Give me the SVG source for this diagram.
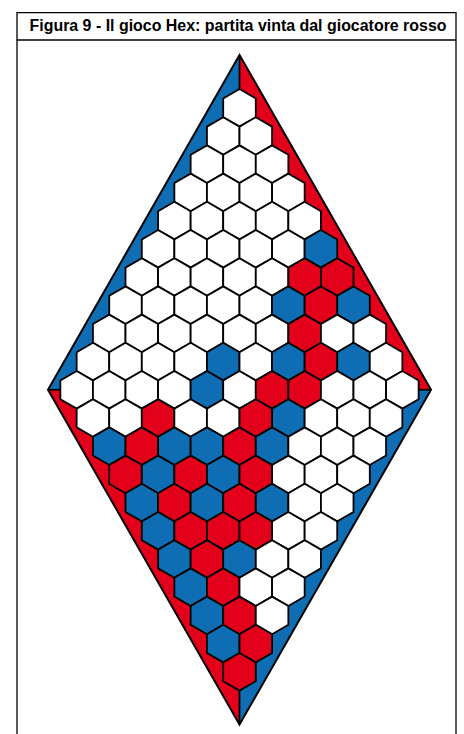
<svg xmlns="http://www.w3.org/2000/svg" xmlns:xlink="http://www.w3.org/1999/xlink" width="464" height="734" viewBox="0 0 464 734">
<style>
.frame{fill:none;stroke:#000;stroke-width:1.3}
.title{font-family:"Liberation Sans",Arial,sans-serif;font-weight:bold;font-size:17px;fill:#000}
.w{fill:#fff}
.r{fill:#E3001B}
.b{fill:#0F6EB3}
.cells use{stroke:#000;stroke-width:1.8;stroke-linejoin:miter}
.split{stroke:#000;stroke-width:1.8}
.outline{fill:none;stroke:#000;stroke-width:2;stroke-linejoin:miter}
</style>
<defs>
<polygon id="h" points="0,-18.8 16.28,-9.4 16.28,9.4 0,18.8 -16.28,9.4 -16.28,-9.4"/>
</defs>
<rect width="464" height="734" fill="#fff"/>
<g id="frame">
<path class="frame" d="M17,734 V12.7 H456 V734"/>
<line class="frame" x1="17" y1="40" x2="456" y2="40"/>
<text class="title" transform="translate(238,31) scale(0.85,1)" x="0" y="0" text-anchor="middle" textLength="490.6" lengthAdjust="spacingAndGlyphs">Figura 9 - Il gioco Hex: partita vinta dal giocatore rosso</text>
</g>
<g id="margins">
<polygon class="b" points="239.5,55 48,389.8 239.5,389.8"/>
<polygon class="r" points="239.5,55 431,389.8 239.5,389.8"/>
<polygon class="r" points="48,389.8 239.5,724.5 239.5,389.8"/>
<polygon class="b" points="431,389.8 239.5,724.5 239.5,389.8"/>
</g>
<g id="board" class="cells">
<use href="#h" class="w" x="239.5" y="107.8"/>
<use href="#h" class="w" x="223.22" y="136"/><use href="#h" class="w" x="255.79" y="136"/>
<use href="#h" class="w" x="206.93" y="164.2"/><use href="#h" class="w" x="239.5" y="164.2"/><use href="#h" class="w" x="272.07" y="164.2"/>
<use href="#h" class="w" x="190.65" y="192.4"/><use href="#h" class="w" x="223.22" y="192.4"/><use href="#h" class="w" x="255.79" y="192.4"/><use href="#h" class="w" x="288.36" y="192.4"/>
<use href="#h" class="w" x="174.36" y="220.6"/><use href="#h" class="w" x="206.93" y="220.6"/><use href="#h" class="w" x="239.5" y="220.6"/><use href="#h" class="w" x="272.07" y="220.6"/><use href="#h" class="w" x="304.64" y="220.6"/>
<use href="#h" class="w" x="158.08" y="248.8"/><use href="#h" class="w" x="190.65" y="248.8"/><use href="#h" class="w" x="223.22" y="248.8"/><use href="#h" class="w" x="255.79" y="248.8"/><use href="#h" class="w" x="288.36" y="248.8"/><use href="#h" class="b" x="320.93" y="248.8"/>
<use href="#h" class="w" x="141.79" y="277"/><use href="#h" class="w" x="174.36" y="277"/><use href="#h" class="w" x="206.93" y="277"/><use href="#h" class="w" x="239.5" y="277"/><use href="#h" class="w" x="272.07" y="277"/><use href="#h" class="r" x="304.64" y="277"/><use href="#h" class="r" x="337.21" y="277"/>
<use href="#h" class="w" x="125.51" y="305.2"/><use href="#h" class="w" x="158.08" y="305.2"/><use href="#h" class="w" x="190.65" y="305.2"/><use href="#h" class="w" x="223.22" y="305.2"/><use href="#h" class="w" x="255.79" y="305.2"/><use href="#h" class="b" x="288.36" y="305.2"/><use href="#h" class="r" x="320.93" y="305.2"/><use href="#h" class="b" x="353.5" y="305.2"/>
<use href="#h" class="w" x="109.22" y="333.4"/><use href="#h" class="w" x="141.79" y="333.4"/><use href="#h" class="w" x="174.36" y="333.4"/><use href="#h" class="w" x="206.93" y="333.4"/><use href="#h" class="w" x="239.5" y="333.4"/><use href="#h" class="w" x="272.07" y="333.4"/><use href="#h" class="r" x="304.64" y="333.4"/><use href="#h" class="w" x="337.21" y="333.4"/><use href="#h" class="w" x="369.78" y="333.4"/>
<use href="#h" class="w" x="92.94" y="361.6"/><use href="#h" class="w" x="125.51" y="361.6"/><use href="#h" class="w" x="158.08" y="361.6"/><use href="#h" class="w" x="190.65" y="361.6"/><use href="#h" class="b" x="223.22" y="361.6"/><use href="#h" class="w" x="255.79" y="361.6"/><use href="#h" class="b" x="288.36" y="361.6"/><use href="#h" class="r" x="320.93" y="361.6"/><use href="#h" class="b" x="353.5" y="361.6"/><use href="#h" class="w" x="386.07" y="361.6"/>
<use href="#h" class="w" x="76.65" y="389.8"/><use href="#h" class="w" x="109.22" y="389.8"/><use href="#h" class="w" x="141.79" y="389.8"/><use href="#h" class="w" x="174.36" y="389.8"/><use href="#h" class="b" x="206.93" y="389.8"/><use href="#h" class="w" x="239.5" y="389.8"/><use href="#h" class="r" x="272.07" y="389.8"/><use href="#h" class="r" x="304.64" y="389.8"/><use href="#h" class="w" x="337.21" y="389.8"/><use href="#h" class="w" x="369.78" y="389.8"/><use href="#h" class="w" x="402.35" y="389.8"/>
<use href="#h" class="w" x="92.94" y="418"/><use href="#h" class="w" x="125.51" y="418"/><use href="#h" class="r" x="158.08" y="418"/><use href="#h" class="w" x="190.65" y="418"/><use href="#h" class="w" x="223.22" y="418"/><use href="#h" class="r" x="255.79" y="418"/><use href="#h" class="b" x="288.36" y="418"/><use href="#h" class="w" x="320.93" y="418"/><use href="#h" class="w" x="353.5" y="418"/><use href="#h" class="w" x="386.07" y="418"/>
<use href="#h" class="b" x="109.22" y="446.2"/><use href="#h" class="r" x="141.79" y="446.2"/><use href="#h" class="b" x="174.36" y="446.2"/><use href="#h" class="b" x="206.93" y="446.2"/><use href="#h" class="r" x="239.5" y="446.2"/><use href="#h" class="b" x="272.07" y="446.2"/><use href="#h" class="w" x="304.64" y="446.2"/><use href="#h" class="w" x="337.21" y="446.2"/><use href="#h" class="w" x="369.78" y="446.2"/>
<use href="#h" class="r" x="125.51" y="474.4"/><use href="#h" class="b" x="158.08" y="474.4"/><use href="#h" class="r" x="190.65" y="474.4"/><use href="#h" class="b" x="223.22" y="474.4"/><use href="#h" class="r" x="255.79" y="474.4"/><use href="#h" class="w" x="288.36" y="474.4"/><use href="#h" class="w" x="320.93" y="474.4"/><use href="#h" class="w" x="353.5" y="474.4"/>
<use href="#h" class="b" x="141.79" y="502.6"/><use href="#h" class="r" x="174.36" y="502.6"/><use href="#h" class="b" x="206.93" y="502.6"/><use href="#h" class="r" x="239.5" y="502.6"/><use href="#h" class="b" x="272.07" y="502.6"/><use href="#h" class="w" x="304.64" y="502.6"/><use href="#h" class="w" x="337.21" y="502.6"/>
<use href="#h" class="b" x="158.08" y="530.8"/><use href="#h" class="r" x="190.65" y="530.8"/><use href="#h" class="r" x="223.22" y="530.8"/><use href="#h" class="r" x="255.79" y="530.8"/><use href="#h" class="w" x="288.36" y="530.8"/><use href="#h" class="w" x="320.93" y="530.8"/>
<use href="#h" class="b" x="174.36" y="559"/><use href="#h" class="r" x="206.93" y="559"/><use href="#h" class="b" x="239.5" y="559"/><use href="#h" class="w" x="272.07" y="559"/><use href="#h" class="w" x="304.64" y="559"/>
<use href="#h" class="b" x="190.65" y="587.2"/><use href="#h" class="r" x="223.22" y="587.2"/><use href="#h" class="w" x="255.79" y="587.2"/><use href="#h" class="w" x="288.36" y="587.2"/>
<use href="#h" class="b" x="206.93" y="615.4"/><use href="#h" class="r" x="239.5" y="615.4"/><use href="#h" class="w" x="272.07" y="615.4"/>
<use href="#h" class="b" x="223.22" y="643.6"/><use href="#h" class="r" x="255.79" y="643.6"/>
<use href="#h" class="r" x="239.5" y="671.8"/>
</g>
<g id="connectors">
<line class="split" x1="239.5" y1="55" x2="239.5" y2="89"/>
<line class="split" x1="239.5" y1="690.6" x2="239.5" y2="724.5"/>
<line class="split" x1="48" y1="389.8" x2="60.9" y2="389.8"/>
<line class="split" x1="418.1" y1="389.8" x2="431" y2="389.8"/>
<polygon class="outline" points="239.5,55 431,389.8 239.5,724.5 48,389.8"/>
</g>
</svg>
